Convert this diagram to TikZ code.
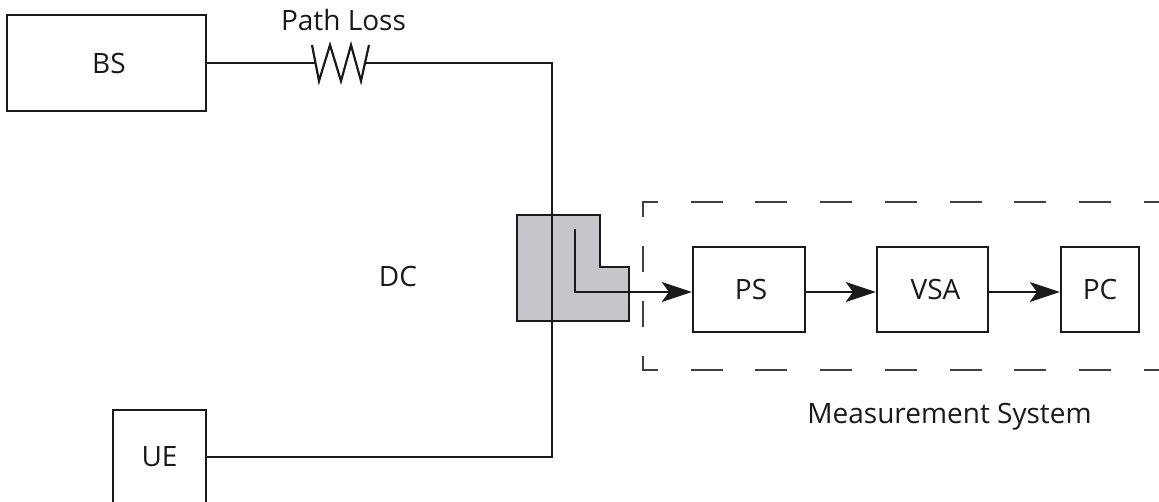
\documentclass[tikz,border=0pt]{standalone}
\usepackage{fontspec}
\setmainfont{Open Sans}
\usetikzlibrary{arrows.meta}
\definecolor{couplergray}{HTML}{C5C6C9}
\definecolor{ink}{HTML}{1A1A1A}
\tikzset{
  x=1pt,y=-1pt,
  wire/.style={line width=2.2pt,ink,line join=miter},
  flow/.style={wire,-{Stealth[length=30pt,width=20pt,inset=7pt]}},
  blockbox/.style={draw=ink,line width=2.4pt,inner sep=0pt,text=ink,font=\fontsize{28}{32}\selectfont},
  thinbox/.style={blockbox,line width=1.8pt},
  caption/.style={inner sep=0pt,text=ink,font=\fontsize{28}{32}\selectfont},
  fence/.style={line width=1.9pt,black!75},
}
\begin{document}
\begin{tikzpicture}
\useasboundingbox (0,0) rectangle (1159,501);
% directional coupler body
\draw[fill=couplergray,draw=ink,line width=2.2pt,line join=miter]
  (517,215) -- (600,215) -- (600,267) -- (629,267) -- (629,321) -- (517,321) -- cycle;
% nodes
\node[thinbox,minimum width=199pt,minimum height=96pt] (BS) at (106.5,63) {\hspace*{5pt}BS};
\node[thinbox,minimum width=93.5pt,minimum height=94pt] (UE) at (159.5,457) {UE};
\node[blockbox,minimum width=112pt,minimum height=85pt] (PS) at (749,289.5) {\hspace*{4pt}PS};
\node[blockbox,minimum width=111pt,minimum height=85pt] (VSA) at (932.5,289.5) {\hspace*{6pt}VSA};
\node[blockbox,minimum width=78pt,minimum height=85pt] (PC) at (1100,289.5) {PC};
\node[caption,anchor=base] (pl) at (343.5,30) {Path Loss};
\node[caption] (dc) at (398,276) {DC};
\node[caption,anchor=base] (ms) at (949.5,423) {Measurement System};
% resistor
\coordinate (r0) at (315.5,63);
\coordinate (r1) at (365,63);
\coordinate (corner1) at (552,63);
\coordinate (corner2) at (552,457);
\coordinate (l1) at (575,229);
\coordinate (l2) at (575,292);
\draw[wire] (BS.east |- r0) -- (r0);
\draw[wire,miter limit=10] (312,45) -- (319,81) -- (330,45) -- (341,81) -- (351,45) -- (361,81) -- (369,45);
\draw[wire] (r1) -- (corner1) -- (corner2) -- (UE.east |- corner2);
% coupled path and chain
\draw[flow] (l1) -- (l2) -- (l2 -| PS.west);
\draw[flow] (PS.east |- l2) -- (VSA.west |- l2);
\draw[flow] (VSA.east |- l2) -- (PC.west |- l2);
% measurement system outline
\draw[fence,dash pattern=on 32pt off 32.7pt,dash phase=16pt] (642,202) -- (1170,202);
\draw[fence,dash pattern=on 32pt off 32.7pt,dash phase=16pt] (642,370) -- (1170,370);
\draw[fence,dash pattern=on 26pt off 29pt,dash phase=11pt] (643,202) -- (643,370);
\end{tikzpicture}
\end{document}
